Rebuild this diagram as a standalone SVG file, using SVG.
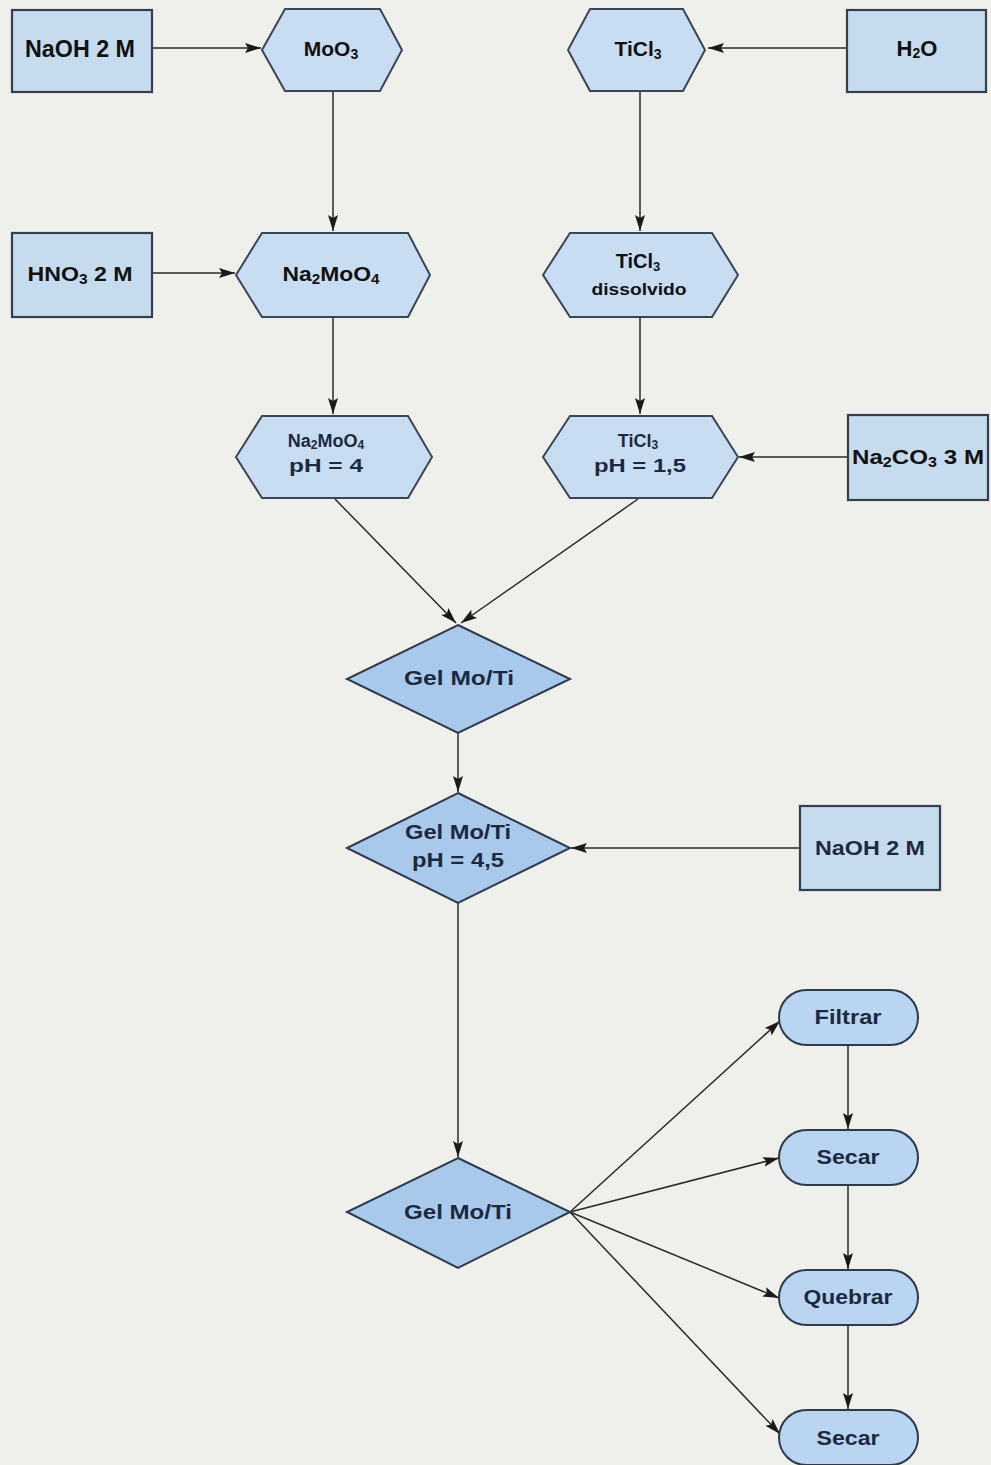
<svg xmlns="http://www.w3.org/2000/svg" width="991" height="1465" viewBox="0 0 991 1465">
<defs>
<style>
.bg{fill:#efefec}
.rect{fill:#c7dbee;stroke:#34404e;stroke-width:2.2}
.hex{fill:#c9ddf2;stroke:#3a4656;stroke-width:2}
.dia{fill:#a9c9ec;stroke:#2e3a4c;stroke-width:2}
.pill{fill:#b9d5f1;stroke:#2e3a4c;stroke-width:2}
.conn{fill:none;stroke:#2a2a2a;stroke-width:1.5}
text{font-family:"Liberation Sans",Arial,Helvetica,sans-serif;font-weight:bold;text-anchor:middle}
.tb{fill:#111}
.tn{fill:#1c2940}
</style>
<marker id="ah" markerUnits="userSpaceOnUse" markerWidth="18" markerHeight="12" refX="16" refY="6" orient="auto">
<path d="M0,1 L16,6 L0,11 L3,6 z" fill="#1a1a1a"/>
</marker>
</defs>
<rect class="bg" x="0" y="0" width="991" height="1465"/>

<g id="connectors">
<line class="conn" x1="152" y1="48" x2="261" y2="48" marker-end="url(#ah)"/>
<line class="conn" x1="847" y1="48" x2="708" y2="48" marker-end="url(#ah)"/>
<line class="conn" x1="333" y1="92" x2="333" y2="231" marker-end="url(#ah)"/>
<line class="conn" x1="640" y1="92" x2="640" y2="231" marker-end="url(#ah)"/>
<line class="conn" x1="152" y1="273" x2="235" y2="273" marker-end="url(#ah)"/>
<line class="conn" x1="333" y1="318" x2="333" y2="414" marker-end="url(#ah)"/>
<line class="conn" x1="640" y1="318" x2="640" y2="414" marker-end="url(#ah)"/>
<line class="conn" x1="848" y1="457" x2="739" y2="457" marker-end="url(#ah)"/>
<line class="conn" x1="335" y1="499" x2="456" y2="623" marker-end="url(#ah)"/>
<line class="conn" x1="638" y1="499" x2="461" y2="623" marker-end="url(#ah)"/>
<line class="conn" x1="458" y1="733" x2="458" y2="792" marker-end="url(#ah)"/>
<line class="conn" x1="800" y1="848" x2="571" y2="848" marker-end="url(#ah)"/>
<line class="conn" x1="458" y1="903" x2="458" y2="1157" marker-end="url(#ah)"/>
<line class="conn" x1="570" y1="1212" x2="780" y2="1021" marker-end="url(#ah)"/>
<line class="conn" x1="570" y1="1212" x2="779" y2="1158" marker-end="url(#ah)"/>
<line class="conn" x1="570" y1="1212" x2="779" y2="1298" marker-end="url(#ah)"/>
<line class="conn" x1="570" y1="1212" x2="780" y2="1434" marker-end="url(#ah)"/>
<line class="conn" x1="848" y1="1045" x2="848" y2="1129" marker-end="url(#ah)"/>
<line class="conn" x1="848" y1="1185" x2="848" y2="1269" marker-end="url(#ah)"/>
<line class="conn" x1="848" y1="1325" x2="848" y2="1409" marker-end="url(#ah)"/>
</g>

<g id="naoh-top">
<rect class="rect" x="12" y="10" width="140" height="82"/>
<text class="tb" x="80" y="57" font-size="23" textLength="110" lengthAdjust="spacingAndGlyphs">NaOH 2 M</text>
</g>

<g id="moo3">
<polygon class="hex" points="262,50 285,9 380,9 402,50 380,91 285,91"/>
<text class="tb" x="331" y="56" font-size="21">MoO<tspan font-size="14" dy="3">3</tspan></text>
</g>

<g id="ticl3">
<polygon class="hex" points="568,50 590,9 683,9 705,50 683,91 590,91"/>
<text class="tb" x="638" y="56" font-size="21">TiCl<tspan font-size="14" dy="3">3</tspan></text>
</g>

<g id="h2o">
<rect class="rect" x="847" y="10" width="139" height="82"/>
<text class="tb" x="917" y="56" font-size="22">H<tspan font-size="14" dy="2">2</tspan><tspan dy="-2">O</tspan></text>
</g>

<g id="hno3">
<rect class="rect" x="12" y="233" width="140" height="84"/>
<text class="tb" x="80" y="281" font-size="21" textLength="105" lengthAdjust="spacingAndGlyphs">HNO<tspan font-size="14" dy="3">3</tspan><tspan dy="-3"> 2 M</tspan></text>
</g>

<g id="na2moo4">
<polygon class="hex" points="236,275 262,233 408,233 430,275 408,317 262,317"/>
<text class="tb" x="331" y="281" font-size="21" textLength="97" lengthAdjust="spacingAndGlyphs">Na<tspan font-size="14" dy="3">2</tspan><tspan dy="-3">MoO</tspan><tspan font-size="14" dy="3">4</tspan></text>
</g>

<g id="ticl3-dissolvido">
<polygon class="hex" points="543,275 570,233 712,233 738,275 712,317 570,317"/>
<text class="tb" x="638" y="268" font-size="20">TiCl<tspan font-size="13" dy="3">3</tspan></text>
<text class="tb" x="639" y="295" font-size="17" textLength="95" lengthAdjust="spacingAndGlyphs">dissolvido</text>
</g>

<g id="na2moo4-ph4">
<polygon class="hex" points="236,457 262,416 408,416 432,457 408,498 262,498"/>
<text class="tn" x="326" y="447" font-size="18">Na<tspan font-size="12" dy="2">2</tspan><tspan dy="-2">MoO</tspan><tspan font-size="12" dy="2">4</tspan></text>
<text class="tn" x="326" y="472" font-size="19" textLength="74" lengthAdjust="spacingAndGlyphs">pH = 4</text>
</g>

<g id="ticl3-ph15">
<polygon class="hex" points="543,457 570,416 712,416 738,457 712,498 570,498"/>
<text class="tn" x="638" y="447" font-size="18">TiCl<tspan font-size="12" dy="2">3</tspan></text>
<text class="tn" x="640" y="472" font-size="19" textLength="92" lengthAdjust="spacingAndGlyphs">pH = 1,5</text>
</g>

<g id="na2co3">
<rect class="rect" x="848" y="415" width="140" height="85"/>
<text class="tb" x="918" y="464" font-size="21" textLength="132" lengthAdjust="spacingAndGlyphs">Na<tspan font-size="14" dy="3">2</tspan><tspan dy="-3">CO</tspan><tspan font-size="14" dy="3">3</tspan><tspan dy="-3"> 3 M</tspan></text>
</g>

<g id="gel1">
<polygon class="dia" points="458,625 570,679 458,733 347,679"/>
<text class="tn" x="459" y="685" font-size="20" textLength="110" lengthAdjust="spacingAndGlyphs">Gel Mo/Ti</text>
</g>

<g id="gel2">
<polygon class="dia" points="458,793 570,848 458,903 347,848"/>
<text class="tn" x="458" y="839" font-size="20" textLength="106" lengthAdjust="spacingAndGlyphs">Gel Mo/Ti</text>
<text class="tn" x="458" y="867" font-size="20" textLength="92" lengthAdjust="spacingAndGlyphs">pH = 4,5</text>
</g>

<g id="naoh-right">
<rect class="rect" x="800" y="806" width="140" height="84"/>
<text class="tn" x="870" y="855" font-size="20" textLength="110" lengthAdjust="spacingAndGlyphs">NaOH 2 M</text>
</g>

<g id="gel3">
<polygon class="dia" points="458,1158 570,1212 458,1268 347,1212"/>
<text class="tn" x="458" y="1219" font-size="20" textLength="108" lengthAdjust="spacingAndGlyphs">Gel Mo/Ti</text>
</g>

<g id="filtrar">
<rect class="pill" x="779" y="990" width="139" height="55" rx="27.5"/>
<text class="tn" x="848" y="1024" font-size="20" textLength="67" lengthAdjust="spacingAndGlyphs">Filtrar</text>
</g>

<g id="secar1">
<rect class="pill" x="779" y="1130" width="139" height="55" rx="27.5"/>
<text class="tn" x="848" y="1164" font-size="20" textLength="63" lengthAdjust="spacingAndGlyphs">Secar</text>
</g>

<g id="quebrar">
<rect class="pill" x="779" y="1270" width="139" height="55" rx="27.5"/>
<text class="tn" x="848" y="1304" font-size="20" textLength="89" lengthAdjust="spacingAndGlyphs">Quebrar</text>
</g>

<g id="secar2">
<rect class="pill" x="779" y="1410" width="139" height="55" rx="27.5"/>
<text class="tn" x="848" y="1445" font-size="20" textLength="63" lengthAdjust="spacingAndGlyphs">Secar</text>
</g>
</svg>
